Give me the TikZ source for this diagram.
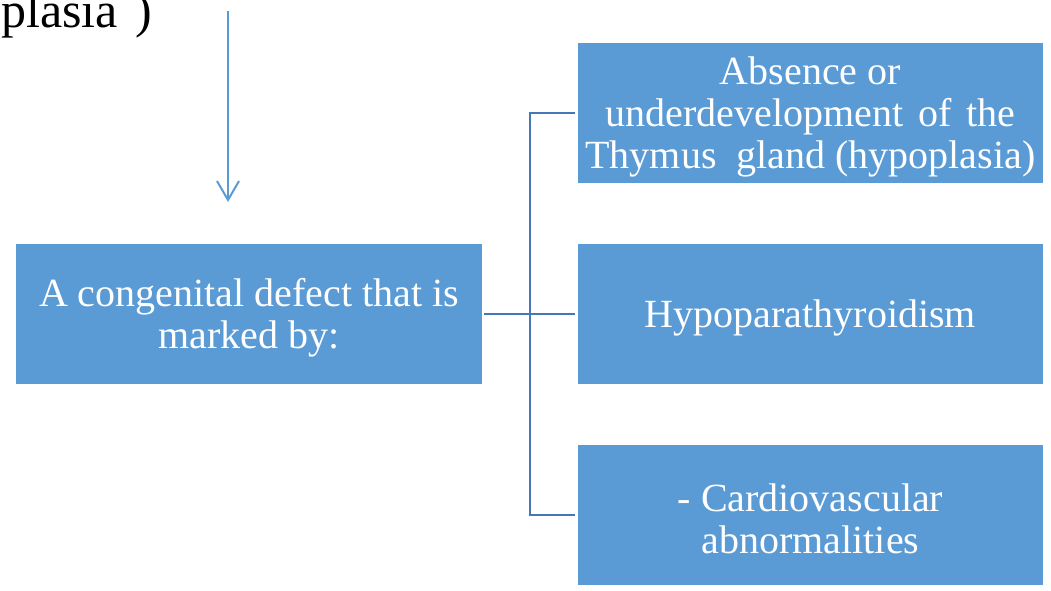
\documentclass[tikz,border=0pt]{standalone}
\usepackage{fontspec}
\setmainfont{Liberation Serif}
\usetikzlibrary{arrows.meta}
\definecolor{boxblue}{RGB}{91,155,213}
\definecolor{linkblue}{RGB}{70,120,182}
\newcommand{\toplift}{\rule{0pt}{36pt}}
\tikzset{
  box/.style={rectangle, fill=boxblue, draw=none, inner sep=0pt, text=white,
    minimum width=466pt, minimum height=140pt, align=center,
    font=\fontsize{40}{42}\selectfont},
  link/.style={draw=linkblue, line width=2.2pt},
  downarrow/.style={draw=boxblue, line width=2pt, -{Straight Barb[length=19pt,width=22pt,line width=2pt]}}
}
\begin{document}
\begin{tikzpicture}[x=1pt,y=-1pt]
\useasboundingbox (0,0) rectangle (1051,591);
\clip (0,0) rectangle (1051,591);
\node[anchor=base west, inner sep=0pt, font=\fontsize{50}{52}\selectfont] (top) at (1,28) {plasia\hspace{18pt})};
\coordinate (arrstart) at (228,11);
\coordinate (arrend) at (228,202);
\draw[downarrow] (arrstart) -- (arrend);
\node[box] (L) at (249,314) {\toplift A congenital defect that is\\marked by:};
\node[box, minimum width=465pt] (B1) at (810.5,113) {\toplift Absence or\\underdevelopment\hspace{15pt}of\hspace{15pt}the\\Thymus\hspace{20pt}gland (hypoplasia)};
\node[box, minimum width=465pt] (B2) at (810.5,314) {\toplift Hypoparathyroidism};
\node[box, minimum width=465pt] (B3) at (810.5,515) {\toplift - Cardiovascular\\abnormalities};
\coordinate (J) at (530,314);
\draw[link, shorten <=2pt] (L.east) -- (J);
\draw[link, shorten >=3pt] (J) |- (B1.west);
\draw[link, shorten >=3pt] (J) -- (B2.west);
\draw[link, shorten >=3pt] (J) |- (B3.west);
\end{tikzpicture}
\end{document}
